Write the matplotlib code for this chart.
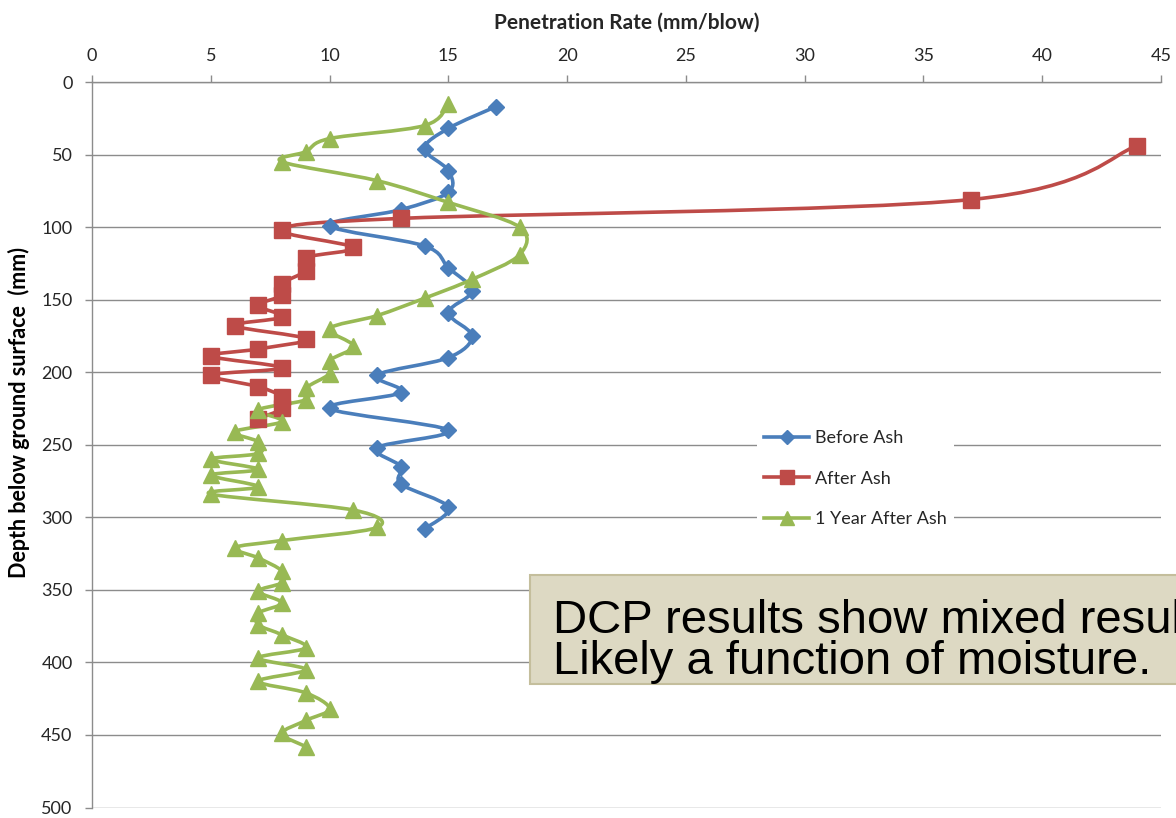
import numpy as np
import matplotlib
matplotlib.use("Agg")
import matplotlib.pyplot as plt
from matplotlib.path import Path
from matplotlib.patches import PathPatch, Rectangle
from matplotlib.lines import Line2D

# Penetration rate (mm/blow) against depth (mm)
before_rate = [17, 15, 14, 15, 15, 13, 10, 14, 15, 16, 15, 16, 15, 12, 13, 10, 15, 12, 13, 13, 15, 14]
before_depth = [17, 32, 46, 61, 76, 88, 99, 113, 128, 144, 159, 175, 190, 202, 214, 225, 240, 252, 265, 277, 293, 308]

after_rate = [44, 37, 13, 8, 11, 9, 9, 8, 8, 7, 8, 6, 9, 7, 5, 8, 5, 7, 8, 8, 7]
after_depth = [44, 81, 94, 102, 114, 121, 130, 139, 147, 154, 162, 168, 177, 184, 189, 197, 202, 210, 217, 225, 232]

year_rate = [15, 14, 10, 9, 8, 12, 15, 18, 18, 16, 14, 12, 10, 11, 10, 10, 9, 9, 7, 8,
             6, 7, 7, 5, 7, 5, 7, 5, 11, 12, 8, 6, 7, 8, 8, 7, 8, 7, 7, 8,
             9, 7, 9, 7, 9, 10, 9, 8, 9]
year_depth = [15, 30, 39, 48, 55, 68, 83, 100, 119, 136, 149, 161, 170, 182, 192, 201, 211, 219, 226, 234,
              241, 248, 256, 260, 267, 271, 279, 284, 295, 307, 316, 321, 328, 337, 345, 351, 359, 366, 374, 381,
              390, 397, 405, 413, 421, 432, 440, 449, 458]

series = [
    ("Before Ash", before_rate, before_depth, "#4A7EBB", "D", 8.5),
    ("After Ash", after_rate, after_depth, "#BE4B48", "s", 12),
    ("1 Year After Ash", year_rate, year_depth, "#98B954", "^", 11.5),
]

x_ticks = [0, 5, 10, 15, 20, 25, 30, 35, 40, 45]
y_ticks = [0, 50, 100, 150, 200, 250, 300, 350, 400, 450, 500]

GRID = "#8C8C8C"
TXT = "#262626"


def smooth_path(xs, ys):
    """Cubic Bezier path through the points (Catmull-Rom tangents)."""
    p = np.column_stack([xs, ys]).astype(float)
    n = len(p)
    verts = [p[0]]
    codes = [Path.MOVETO]
    for i in range(n - 1):
        p0 = p[i - 1] if i > 0 else p[i]
        p1 = p[i]
        p2 = p[i + 1]
        p3 = p[i + 2] if i + 2 < n else p[i + 1]
        c1 = p1 + (p2 - p0) / 6.0
        c2 = p2 - (p3 - p1) / 6.0
        verts += [c1, c2, p2]
        codes += [Path.CURVE4] * 3
    return Path(verts, codes)


plt.rcParams["font.family"] = ["Lato", "DejaVu Sans"]

fig = plt.figure(figsize=(11.76, 8.18), dpi=100)
ax = fig.add_axes([92 / 1176, 1 - 807.5 / 818, (1161 - 92) / 1176, (807.5 - 82) / 818])

handles = []
for name, xs, ys, color, marker, ms in series:
    ax.add_patch(PathPatch(smooth_path(xs, ys), facecolor="none", edgecolor=color,
                           lw=2.6, capstyle="round", joinstyle="round", zorder=3))
    ax.plot(xs, ys, linestyle="none", marker=marker, ms=ms, color=color,
            markeredgecolor=color, zorder=4)
    handles.append(Line2D([], [], color=color, lw=2.6, marker=marker,
                          ms=ms * 0.85, markeredgecolor=color, label=name))

ax.set_xlim(0, 45)
ax.set_ylim(500, 0)
ax.set_xticks(x_ticks)
ax.set_yticks(y_ticks)
ax.xaxis.tick_top()
ax.xaxis.set_label_position("top")
ax.tick_params(axis="both", labelsize=13, colors=TXT, length=5, width=1, color=GRID)
ax.tick_params(axis="x", pad=8)
ax.tick_params(axis="y", pad=9)
ax.grid(axis="y", color=GRID, lw=1.0, zorder=0)
ax.set_axisbelow(True)
for side in ("right", "bottom"):
    ax.spines[side].set_visible(False)
for side in ("left", "top"):
    ax.spines[side].set_color(GRID)
    ax.spines[side].set_linewidth(1.0)

ax.set_xlabel("Penetration Rate (mm/blow)", fontsize=15, fontweight="bold",
              color=TXT, labelpad=14)
fig.text(19 / 1176, 1 - 412 / 818, "Depth below ground surface  (mm)", rotation=90,
         fontsize=15.5, fontweight="bold", color="black", ha="center", va="center")

leg = ax.legend(handles=handles, loc="upper left",
                bbox_to_anchor=(748 / 1176, 1 - 414 / 818), bbox_transform=fig.transFigure,
                frameon=True, fontsize=13, handlelength=2.5, labelspacing=1.35,
                borderpad=0.4, handletextpad=0.3)
leg.get_frame().set_facecolor("white")
leg.get_frame().set_edgecolor("none")
leg.get_frame().set_alpha(1)
for t in leg.get_texts():
    t.set_color(TXT)

# Annotation box running off the right edge
box = Rectangle((530 / 1176, 1 - 684 / 818), 0.6, (684 - 575) / 818,
                transform=fig.transFigure, facecolor="#DDD9C3", edgecolor="#C4BE9C",
                lw=1.5, zorder=10, clip_on=False)
fig.patches.append(box)
fig.text(553 / 1176, 1 - 633 / 818, "DCP results show mixed results.",
         family="Liberation Sans", fontsize=34, color="black", va="baseline", zorder=11)
fig.text(553 / 1176, 1 - 674 / 818, "Likely a function of moisture.",
         family="Liberation Sans", fontsize=34, color="black", va="baseline", zorder=11)

fig.savefig("out.png", dpi=100)
